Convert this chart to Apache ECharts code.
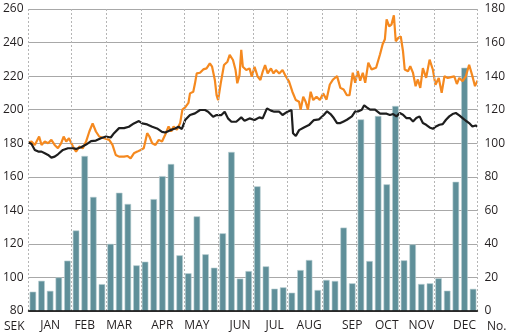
<!DOCTYPE html>
<html>
<head>
<meta charset="utf-8">
<script src="https://cdn.jsdelivr.net/npm/echarts@6/dist/echarts.min.js"></script>
<style>
html,body{margin:0;padding:0;background:#fff;}
#chart{width:508px;height:336px;}
</style>
</head>
<body>
<div id="chart"></div>
<script>
// ---- data ----
const monthNames = ['JAN','FEB','MAR','APR','MAY','JUN','JUL','AUG','SEP','OCT','NOV','DEC'];
const monthLabelWeek = [2,6,10,15,19,24,28,32,37,41,45,50];
const monthStartDay = [0,25,45,65,90,110,130,150,170,190,215,235,260];
const leftTicks = [80,260,20];   // min, max, step (SEK)
const rightTicks = [0,180,20];   // min, max, step (No.)

// weekly volume bars (No.)
const weeklyVolume = [11.5,18,12,20,30,48,92.4,68,16,40,70.5,63.8,27.2,29.4,66.7,80.4,87.6,33.2,22.5,56.4,
  33.8,25.8,46.3,94.8,19.3,23.8,74.3,26.6,13.3,14.1,10.9,24.4,30.4,12.5,18.5,17.9,49.7,16.5,114.2,29.8,
  116.2,75.5,122.2,30.2,39.7,16.1,16.5,19.5,12.1,77,145,13.2];

// black line (share price, SEK) : trading day, value
const blackDay = [0,1.7,3.6,5.6,7.5,9.4,11.3,13.2,15.1,17,19.9,22.8,25.7,27.5,30.4,33.3,36.2,39,41.9,44.8,47.6,49.5,52.4,55.3,58.1,61,63.9,65.8,68.7,71.6,74.4,77.3,79.2,82.1,84.9,86.8,88.8,90.7,93.5,96.4,99.3,102.2,104,106.9,108.9,111.7,113.6,115.5,117.5,120.3,123.2,125.1,128,130.9,133.7,135.6,138.1,140.4,142.3,145.2,147.1,150,152.3,153.2,154.8,156.7,159.5,162.4,165.3,168.2,171,172.9,174.9,176.8,178.7,180.6,182.5,184.4,187.3,189.2,191.1,193,194.4,195.9,197.8,200.7,203.6,205.5,207.4,209.3,211.2,213.1,215,216.9,218.8,220.8,222.7,224.6,226.5,228.4,230.3,232.3,234.2,236,238,239.9,241.8,243.7,245.6,247.5,249.5,251.4,253.3,255.2,257.1,259,260];
const blackVal = [180.5,179.5,176,175,175,174,173,171.4,172,173.4,176,177,177,176.6,177.6,179.2,181.2,181.6,183,184,183.4,186,189,189,189.8,191.8,193.2,191.8,191.2,189.8,188.8,186.8,186.4,187.8,188.8,189.8,188.5,193.8,196.8,197.8,199.8,199.8,198.8,195.8,196.8,196.8,198.8,194.8,192.8,192.8,195.4,193.4,194.8,193.8,195.4,194.8,200.8,199.4,198.8,198.8,196.8,198.8,199.8,185.9,184.3,187.8,189.4,190.8,193.8,194.2,196.8,199,197.4,195,192,192,193,194,196,199,199,200,202.6,201.4,200,200,197.6,197.6,197.6,196.8,197.4,196,198,197,195,195,193,195,196,192,191,189.4,188.6,190,191,191.4,194,196,197.4,198,196.6,195,193.4,192,190,190.6,190];

// orange line (index, SEK) : trading day, value
const orangeDay = [0,1.7,3.6,6.1,7.5,9.4,11.3,13.2,15.1,17,18.9,20.3,21.8,23.4,25.7,27.5,29.4,31.4,33.3,35.2,37.1,39,40.9,43.8,46.7,48.6,50.5,52.4,55.3,57.2,59.1,61,63,64.9,66.7,68.7,70,71.6,73.5,75.4,77.3,79.2,81.1,82.6,84,85.9,87.8,89.1,90.7,92.6,93.5,95.4,96.4,97.4,99.3,101.2,103.1,105,106.3,107.9,108.9,109.8,111.3,113.2,115.2,116.5,118.4,119.9,120.9,122.2,123.2,124.1,126.1,128,129.3,130.9,132.7,134.3,135.6,137,138.5,140.4,141.9,143.3,145.2,147.1,148.6,150.9,152.8,154.8,156.7,157.6,159.1,160.5,161.8,163.4,164.9,166.8,168.7,170.6,172.6,174.5,176.4,178.7,180.6,182.5,184.4,185.9,187.8,189.2,190.7,192.1,193.6,195,196.8,198.7,201.3,203.6,205.1,206.4,207.4,208.9,210.2,211.6,212.7,214.1,215.6,216.9,217.9,219.8,221.1,222.7,224.2,225.5,226.9,228.4,230.3,232.3,234.2,235.7,237.6,239.3,240.9,242.8,244.7,246.6,248.1,249.5,251.4,253.3,255.2,257.1,258.6,260];
const orangeVal = [180.5,181,179,184,179,181,180,182,179,177,180,184,181,183,178,175,178,177,181,187,191.8,187,184,183,182,179,173,172,172,172.4,171,174,175,176,177,186,184,180,179,182,181,185.2,190,187,190,188,192,200,201.4,204,209.7,210.7,215.7,221.6,222,224,224.6,227.6,225.6,217.7,208.7,205.7,215.7,226.6,228.6,232.6,229.6,223.6,215.7,220.6,235.6,225.6,223.6,224.6,219.7,225.6,219.7,217.7,222.6,226.6,221.6,224.6,221.6,223.6,221.6,223.6,220.6,216.7,210.7,205.7,204.7,200,207.7,204.7,200,210.7,205.7,207.7,205.7,209.7,206,215,218,220,213,212,208.6,208.6,222,216,223,217.3,222,216,228,224,225,233,239,242,253.8,249.7,250.7,256.2,240.8,242.7,243.7,234.8,223.9,222.9,225.9,221.9,214,218,213,224.8,219,229.8,223.8,214.8,218.9,210,219.9,218.9,219.4,219.8,215.3,218.9,217,219.9,226.8,220,214,217.3];

// ---- build ----
const weeks = weeklyVolume.map((_, i) => 'W' + (i + 1));
const labelByWeek = {};
monthLabelWeek.forEach((w, k) => { labelByWeek[w] = monthNames[k]; });
const blackData = blackDay.map((d, i) => [d, blackVal[i]]);
const orangeData = orangeDay.map((d, i) => [d, orangeVal[i]]);

const textColor = '#231f20';
const font = 'Open Sans';

const chart = echarts.init(document.getElementById('chart'), null, {renderer: 'canvas'});
chart.setOption({
  animation: false,
  backgroundColor: '#fff',
  grid: {left: 27, right: 28, top: 9, bottom: 25, containLabel: false},
  xAxis: [
    {
      type: 'category', data: weeks, boundaryGap: true,
      axisLine: {show: true, lineStyle: {color: '#000', width: 1.5}},
      axisTick: {show: false},
      splitLine: {show: false},
      axisLabel: {
        interval: 0, margin: 9, color: textColor, fontFamily: font, fontSize: 12,
        formatter: (v, i) => labelByWeek[i] || ''
      },
      z: 5
    },
    {type: 'value', min: monthStartDay[0], max: monthStartDay[monthStartDay.length - 1], show: false}
  ],
  yAxis: [
    {
      type: 'value', position: 'left', min: leftTicks[0], max: leftTicks[1], interval: leftTicks[2],
      axisLine: {show: false}, axisTick: {show: false},
      splitLine: {show: true, lineStyle: {color: '#a8a8a8', width: 1}},
      axisLabel: {margin: 5, color: textColor, fontFamily: font, fontSize: 12}
    },
    {
      type: 'value', position: 'right', min: rightTicks[0], max: rightTicks[1], interval: rightTicks[2],
      axisLine: {show: false}, axisTick: {show: false},
      splitLine: {show: false},
      axisLabel: {margin: 7, color: textColor, fontFamily: font, fontSize: 12}
    }
  ],
  series: [
    {
      type: 'line', xAxisIndex: 1, yAxisIndex: 0, data: [], silent: true, z: 1,
      markLine: {
        silent: true, symbol: ['none', 'none'], label: {show: false},
        lineStyle: {color: '#b5b5b5', type: [2, 2], width: 1},
        data: monthStartDay.map(d => ({xAxis: d}))
      }
    },
    {
      type: 'bar', xAxisIndex: 0, yAxisIndex: 1, data: weeklyVolume, barWidth: 6.5,
      itemStyle: {color: '#5f8f99', borderColor: '#b9ced2', borderWidth: 0.6}, z: 2
    },
    {
      type: 'line', xAxisIndex: 1, yAxisIndex: 0, data: orangeData, showSymbol: false,
      lineStyle: {color: '#f5891f', width: 2.2}, z: 3
    },
    {
      type: 'line', xAxisIndex: 1, yAxisIndex: 0, data: blackData, showSymbol: false,
      lineStyle: {color: '#1e1e1e', width: 2.2}, z: 4
    }
  ],
  graphic: [
    {type: 'text', x: 4, y: 327, style: {text: 'SEK', fill: textColor, font: '12px "Open Sans"', textVerticalAlign: 'middle', verticalAlign: 'middle'}},
    {type: 'text', x: 487, y: 327, style: {text: 'No.', fill: textColor, font: '12px "Open Sans"', textVerticalAlign: 'middle', verticalAlign: 'middle'}}
  ]
});
</script>
</body>
</html>
